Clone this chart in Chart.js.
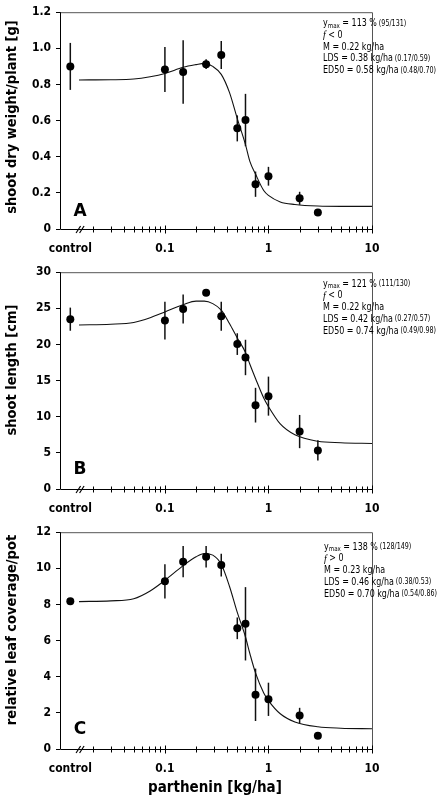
<!DOCTYPE html>
<html><head><meta charset="utf-8">
<script src="https://cdn.jsdelivr.net/npm/chart.js@4"></script>
<style>
html,body{margin:0;padding:0;background:#fff;width:440px;height:801px;overflow:hidden}
.p{position:absolute;left:0;width:440px}
</style></head>
<body>
<div class="p" style="top:0;height:260px"><canvas id="cA"></canvas></div>
<div class="p" style="top:260px;height:260px"><canvas id="cB"></canvas></div>
<div class="p" style="top:520px;height:281px"><canvas id="cC"></canvas></div>
<script>
// ---- data ----
const xDose = [0.0122, 0.1, 0.15, 0.25, 0.35, 0.5, 0.6, 0.75, 1, 2, 3];
const meanA = [0.90, 0.883, 0.869, 0.912, 0.963, 0.557, 0.603, 0.248, 0.292, 0.170, 0.092];
const errA  = [0.13, 0.125, 0.176, 0.027, 0.077, 0.072, 0.145, 0.070, 0.052, 0.036, 0.012];
const meanB = [23.5, 23.3, 24.9, 27.15, 23.9, 20.05, 18.2, 11.6, 12.85, 7.95, 5.33];
const errB  = [1.6, 2.6, 2.0, 0.3, 2.0, 1.5, 2.45, 2.4, 2.7, 2.3, 1.4];
const meanC = [8.18, 9.28, 10.37, 10.64, 10.18, 6.68, 6.93, 3.0, 2.75, 1.86, 0.74];
const errC  = [0, 0.95, 0.86, 0.6, 0.63, 0.6, 2.03, 1.45, 0.92, 0.42, 0.19];

const curveX = [0.0148, 0.03, 0.05, 0.072, 0.1, 0.15, 0.2, 0.24, 0.29, 0.35, 0.42, 0.5, 0.6, 0.66, 0.75, 0.9, 1.0, 1.3, 1.8, 3, 5, 10];
const curveA = [0.825, 0.826, 0.83, 0.843, 0.861, 0.895, 0.91, 0.917, 0.90, 0.856, 0.756, 0.611, 0.467, 0.376, 0.304, 0.213, 0.186, 0.15, 0.136, 0.127, 0.125, 0.125];
const curveB = [22.7, 22.8, 23.05, 23.7, 24.5, 25.5, 26.0, 26.0, 25.65, 24.75, 22.9, 20.9, 18.9, 17.3, 15.3, 12.6, 11.4, 9.0, 7.5, 6.6, 6.4, 6.3];
const curveC = [8.16, 8.2, 8.32, 8.75, 9.34, 10.15, 10.64, 10.82, 10.73, 10.22, 9.01, 7.56, 6.2, 5.3, 4.21, 3.1, 2.68, 1.95, 1.5, 1.23, 1.15, 1.12];

const xMajorTicks = [0.0122, 0.1, 1, 10];
const xMajorLabels = ['control', '0.1', '1', '10'];
const xTickMarks = [0.02,0.03,0.04,0.05,0.06,0.07,0.08,0.09,0.1,0.2,0.3,0.4,0.5,0.6,0.7,0.8,0.9,1,2,3,4,5,6,7,8,9,10];
const xBreakAt = 0.0155;

const yTicksA = [0, 0.2, 0.4, 0.6, 0.8, 1.0, 1.2];
const yLabelsA = ['0', '0.2', '0.4', '0.6', '0.8', '1.0', '1.2'];
const yTicksB = [0, 5, 10, 15, 20, 25, 30];
const yLabelsB = ['0', '5', '10', '15', '20', '25', '30'];
const yTicksC = [0, 2, 4, 6, 8, 10, 12];
const yLabelsC = ['0', '2', '4', '6', '8', '10', '12'];

const annA = {ymax:'113 %', ymaxCI:'(95/131)', f:'< 0', M:'0.22 kg/ha', LDS:'0.38 kg/ha', LDSCI:'(0.17/0.59)', ED50:'0.58 kg/ha', ED50CI:'(0.48/0.70)'};
const annB = {ymax:'121 %', ymaxCI:'(111/130)', f:'< 0', M:'0.22 kg/ha', LDS:'0.42 kg/ha', LDSCI:'(0.27/0.57)', ED50:'0.74 kg/ha', ED50CI:'(0.49/0.98)'};
const annC = {ymax:'138 %', ymaxCI:'(128/149)', f:'> 0', M:'0.23 kg/ha', LDS:'0.46 kg/ha', LDSCI:'(0.38/0.53)', ED50:'0.70 kg/ha', ED50CI:'(0.54/0.86)'};

// ---- style ----
const BOLD = "'DejaVu Sans Condensed','DejaVu Sans',sans-serif";
const tickFont = {family: BOLD, weight: 'bold', size: 12};
const ANN = "'DejaVu Sans Condensed','DejaVu Sans',sans-serif";

function runsWidth(ctx, runs) {
  let w = 0;
  for (const r of runs) { ctx.font = r.font; w += ctx.measureText(r.t).width; }
  return w;
}
function drawRuns(ctx, x, y, runs) {
  let cx = x;
  for (const r of runs) {
    ctx.font = r.font;
    ctx.fillText(r.t, cx, y + (r.dy || 0));
    cx += ctx.measureText(r.t).width;
  }
}

function panelPlugin(P) {
  return {
    id: 'panel' + P.letter,
    beforeDatasetsDraw(chart) {
      const ctx = chart.ctx, xs = chart.scales.x, ys = chart.scales.y;
      ctx.save();
      ctx.strokeStyle = '#111';
      ctx.lineWidth = 1.5;
      P.mean.forEach((m, i) => {
        const e = P.err[i];
        if (!e) return;
        const px = xs.getPixelForValue(xDose[i]);
        ctx.beginPath();
        ctx.moveTo(px, ys.getPixelForValue(m + e));
        ctx.lineTo(px, ys.getPixelForValue(m - e));
        ctx.stroke();
      });
      ctx.restore();
    },
    afterDraw(chart) {
      const ctx = chart.ctx, xs = chart.scales.x, a = chart.chartArea;
      ctx.save();
      // frame
      ctx.lineWidth = 1;
      ctx.strokeStyle = '#555';
      ctx.beginPath();
      ctx.moveTo(a.left, a.top + 0.5); ctx.lineTo(a.right + 0.5, a.top + 0.5); ctx.lineTo(a.right + 0.5, a.bottom);
      ctx.stroke();
      ctx.strokeStyle = '#000';
      ctx.beginPath();
      ctx.moveTo(a.left + 0.5, a.top); ctx.lineTo(a.left + 0.5, a.bottom + 0.5); ctx.lineTo(a.right + 0.5, a.bottom + 0.5);
      ctx.stroke();
      // x tick marks crossing the axis
      const yb = a.bottom + 0.5;
      xTickMarks.forEach(v => {
        const px = Math.round(xs.getPixelForValue(v)) + 0.5;
        const major = xMajorTicks.includes(v);
        const h = major ? 4 : 3;
        ctx.beginPath(); ctx.moveTo(px, yb - h); ctx.lineTo(px, yb + h); ctx.stroke();
      });
      // axis break
      const bx = xs.getPixelForValue(xBreakAt);
      ctx.lineWidth = 1.2;
      for (const off of [-2, 1.5]) {
        ctx.beginPath(); ctx.moveTo(bx + off - 3, yb + 3.5); ctx.lineTo(bx + off + 1.5, yb - 3.5); ctx.stroke();
      }
      // annotation (horizontally condensed to the reference width)
      ctx.fillStyle = '#000';
      ctx.textAlign = 'left';
      ctx.textBaseline = 'middle';
      const A = P.ann, ay = P.annY, ls = 11.8;
      const fM = '10px ' + ANN, fS = '8px ' + ANN;
      const lines = [
        [{t:'y', font:fM}, {t:'max', font:'7px ' + ANN, dy:2.5}, {t:' = ' + A.ymax, font:fM}, {t:' ' + A.ymaxCI, font:fS}],
        [{t:'f', font:"italic 11px 'Liberation Serif',serif"}, {t:' ' + A.f, font:fM}],
        [{t:'M = ' + A.M, font:fM}],
        [{t:'LDS = ' + A.LDS, font:fM}, {t:' ' + A.LDSCI, font:fS}],
        [{t:'ED50 = ' + A.ED50, font:fM}, {t:' ' + A.ED50CI, font:fS}]
      ];
      const wMax = runsWidth(ctx, lines[4]);
      const sx = Math.min(1, P.annW / wMax);
      ctx.save();
      ctx.translate(P.annX, 0);
      ctx.scale(sx, 1);
      lines.forEach((ln, k) => drawRuns(ctx, 0, ay + k * ls, ln));
      ctx.restore();
      // panel letter
      ctx.font = "bold 17px 'DejaVu Sans',sans-serif";
      ctx.textAlign = 'center';
      ctx.fillText(P.letter, 80, P.letterY);
      // y title
      ctx.save();
      ctx.translate(12, P.titleY);
      ctx.rotate(-Math.PI / 2);
      ctx.font = "bold 14.5px " + BOLD;
      ctx.fillText(P.yTitle, 0, 0);
      ctx.restore();
      if (P.xTitle) {
        ctx.font = "bold 15px " + BOLD;
        ctx.fillText(P.xTitle, 215, P.xTitleY);
      }
      ctx.restore();
    }
  };
}

function makeChart(id, P) {
  return new Chart(document.getElementById(id), {
    data: {
      datasets: [
        {type: 'line', data: curveX.map((x, i) => ({x, y: P.curve[i]})), borderColor: '#111', borderWidth: 1.1,
         pointRadius: 0, cubicInterpolationMode: 'monotone', fill: false, order: 2},
        {type: 'scatter', data: xDose.map((x, i) => ({x, y: P.mean[i]})), pointRadius: 4,
         pointBackgroundColor: '#000', pointBorderWidth: 0, borderColor: '#000', order: 1}
      ]
    },
    options: {
      responsive: true, maintainAspectRatio: false, animation: false, devicePixelRatio: 1, events: [],
      layout: {padding: {left: 0, right: 68, top: 8, bottom: 0}},
      plugins: {legend: {display: false}, tooltip: {enabled: false}},
      scales: {
        x: {
          type: 'logarithmic', min: 0.0097, max: 10,
          afterBuildTicks(s) { s.ticks = xMajorTicks.map(v => ({value: v})); },
          afterFit(s) { s.height = P.xAxisHeight; },
          grid: {display: false}, border: {display: false},
          ticks: {autoSkip: false, maxRotation: 0, padding: 5, color: '#000', font: tickFont,
                  callback: (v, i) => xMajorLabels[i]}
        },
        y: {
          min: P.yTicks[0], max: P.yTicks[P.yTicks.length - 1],
          afterBuildTicks(s) { s.ticks = P.yTicks.map(v => ({value: v})); },
          afterFit(s) { s.width = 60; },
          grid: {drawOnChartArea: false, drawTicks: true, tickLength: 4, color: '#000', lineWidth: 1},
          border: {display: false},
          ticks: {padding: 5, color: '#000', font: tickFont, callback: (v, i) => P.yLabels[i]}
        }
      }
    },
    plugins: [panelPlugin(P)]
  });
}

makeChart('cA', {letter:'A', mean:meanA, err:errA, curve:curveA, yTicks:yTicksA, yLabels:yLabelsA, ann:annA,
  annX:323, annW:113, annY:23.5, letterY:212, titleY:117, yTitle:'shoot dry weight/plant [g]', xAxisHeight:31});
makeChart('cB', {letter:'B', mean:meanB, err:errB, curve:curveB, yTicks:yTicksB, yLabels:yLabelsB, ann:annB,
  annX:323, annW:113, annY:24, letterY:210, titleY:110, yTitle:'shoot length [cm]', xAxisHeight:31});
makeChart('cC', {letter:'C', mean:meanC, err:errC, curve:curveC, yTicks:yTicksC, yLabels:yLabelsC, ann:annC,
  annX:324, annW:113, annY:27, letterY:210, titleY:110, yTitle:'relative leaf coverage/pot', xAxisHeight:52,
  xTitle:'parthenin [kg/ha]', xTitleY:268});
</script>
</body></html>
